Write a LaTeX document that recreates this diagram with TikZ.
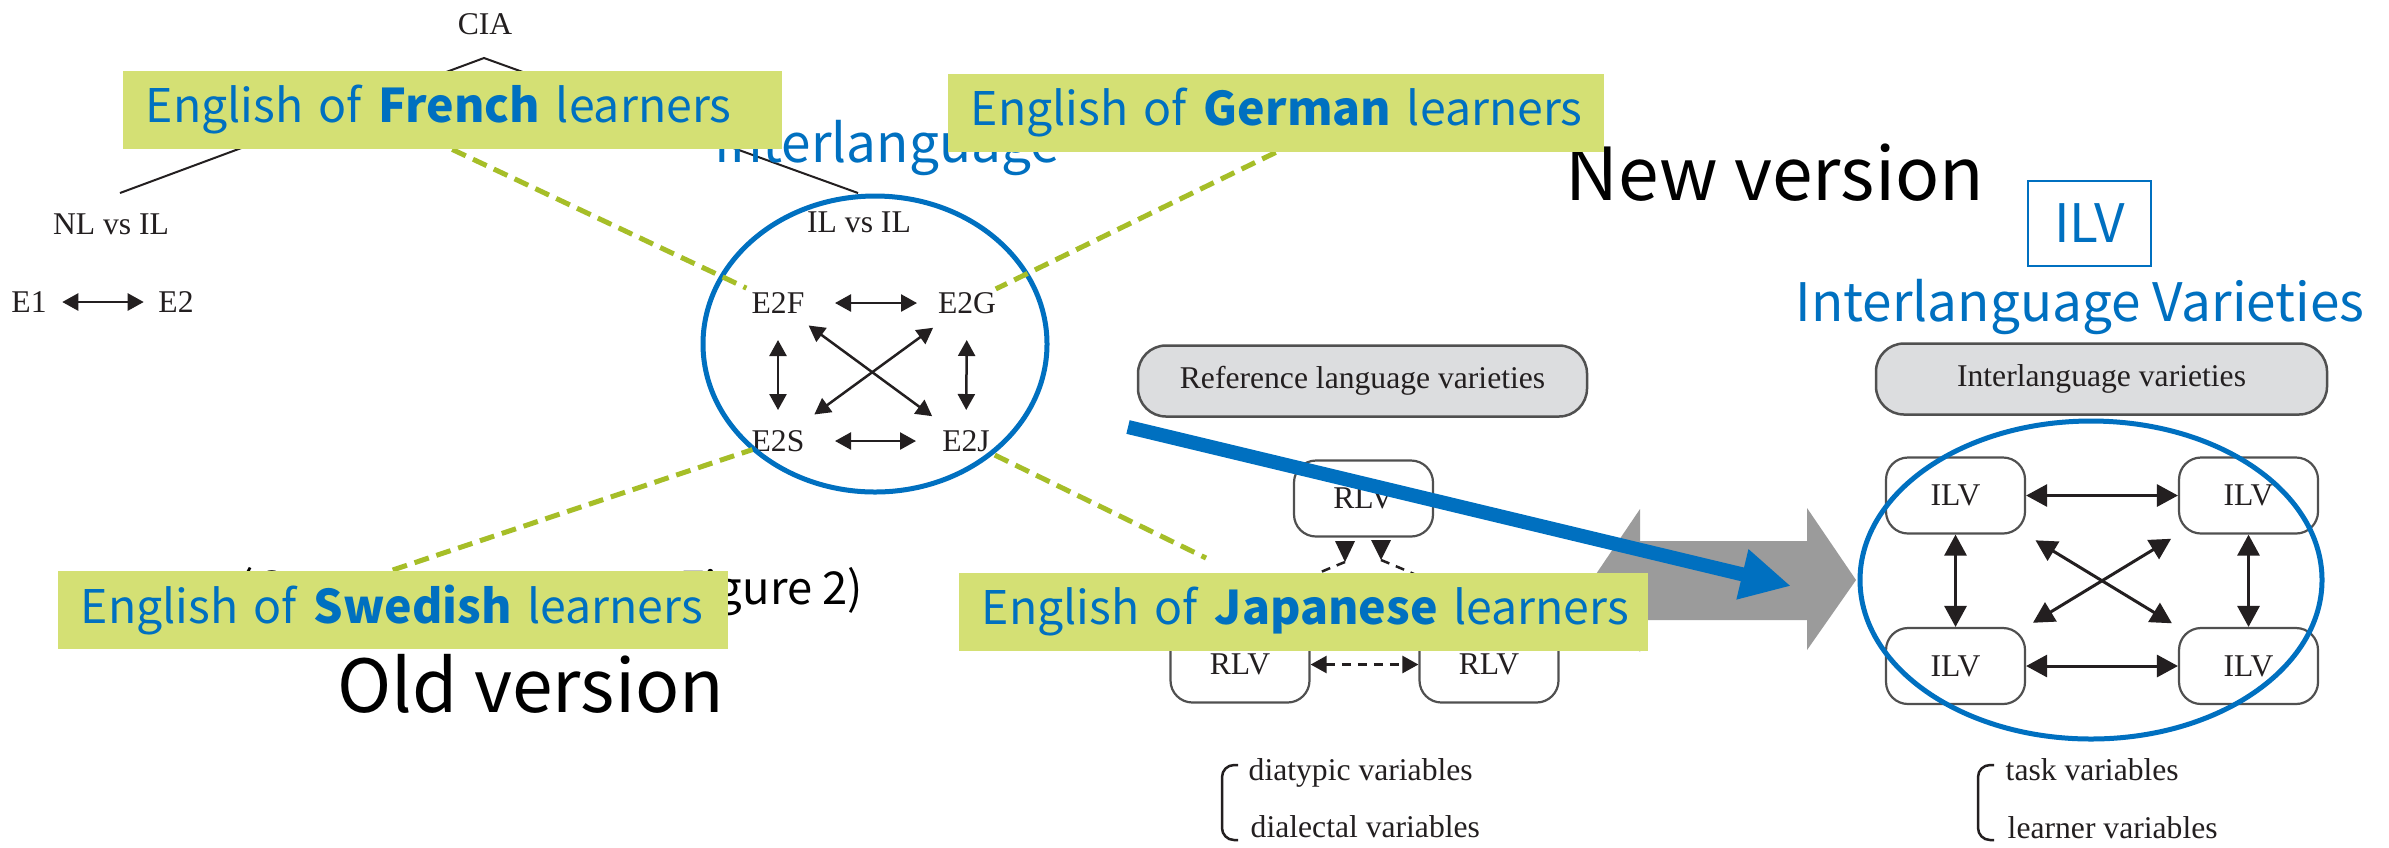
\documentclass[tikz,border=0pt]{standalone}
\usepackage{fontspec}
\usetikzlibrary{arrows.meta}
\newfontfamily\slidefont{Noto Sans CJK JP}
\newfontfamily\bookfont{Liberation Serif}
\definecolor{ilblue}{RGB}{0,112,192}
\definecolor{tagfill}{RGB}{212,224,116}
\definecolor{tagdash}{RGB}{166,190,40}
\definecolor{hdrfill}{RGB}{220,221,223}
\definecolor{boxline}{RGB}{80,80,80}
\definecolor{bigarrow}{RGB}{155,155,155}
\definecolor{ink}{RGB}{35,31,32}
\pgfdeclarelayer{figs}
\pgfdeclarelayer{links}
\pgfsetlayers{figs,links,main}
\begin{document}
\begin{tikzpicture}[x=0.1mm,y=-0.1mm,
  book/.style={font=\bookfont\fontsize{9pt}{11pt}\selectfont, text=ink, inner sep=0pt},
  bihead/.style={{Triangle[length=1.6mm,width=1.7mm]}-{Triangle[length=1.6mm,width=1.7mm]}, line width=0.25mm, draw=ink},
  bigbihead/.style={{Triangle[length=2.1mm,width=2.2mm]}-{Triangle[length=2.1mm,width=2.2mm]}, line width=0.3mm, draw=ink},
  varbox/.style={book, draw=boxline, line width=0.22mm, rounded corners=2.2mm, fill=white, minimum width=13.9mm, minimum height=7.6mm},
  hdrbox/.style={book, draw=boxline, line width=0.25mm, fill=hdrfill, rounded corners=2.8mm, minimum height=7.1mm},
  tag/.style={fill=tagfill, text=ilblue, font=\slidefont\fontsize{13.2pt}{16pt}\selectfont, anchor=north west, inner xsep=2.3mm, inner ysep=0pt, minimum height=7.8mm, align=left},
  tagline/.style={draw=tagdash, line width=0.5mm, dash pattern=on 1.5mm off 0.8mm},
  circ/.style={draw=ilblue, line width=0.5mm},
  slide/.style={font=\slidefont\fontsize{#1}{#1}\selectfont, inner sep=0pt},
]
\begin{pgfonlayer}{figs}
\fill[white] (0,0) rectangle (2389,847);
\useasboundingbox (0,0) rectangle (2389,847);

% CIA tree (old version)
\node[book] (cia) at (485,24) {CIA};
\node[book] (nlil) at (111,224) {NL vs IL};
\node[book] (ilil) at (859,222) {IL vs IL};
\coordinate (apex) at (484,58);
\coordinate (nlend) at (120,193);
\coordinate (ilend) at (858,193);
\draw[ink, line width=0.2mm] (nlend) -- (apex) -- (ilend);
\node[book] (e1) at (29,302) {E1};
\node[book] (e2) at (176,302) {E2};
\draw[bihead, shorten <=1.5mm, shorten >=1.4mm] (e1) -- (e2);

\node[book] (e2f) at (778,303) {E2F};
\node[book] (e2g) at (967,303) {E2G};
\node[book] (e2s) at (778,441) {E2S};
\node[book] (e2j) at (966,441) {E2J};
\draw[bihead, shorten <=5.7mm, shorten >=5mm] (e2f.center) -- (e2g.center);
\draw[bihead, shorten <=5.7mm, shorten >=5mm] (e2s.center) -- (e2j.center);
\draw[bihead, shorten <=3.7mm, shorten >=3.1mm] (e2f.center) -- (e2s.center);
\draw[bihead, shorten <=3.7mm, shorten >=3.1mm] (e2g.center) -- (e2j.center);
\draw[bihead, shorten <=3.8mm, shorten >=4.2mm] (e2f.center) -- (e2j.center);
\draw[bihead, shorten <=4.2mm, shorten >=4.5mm] (e2g.center) -- (e2s.center);

\node[slide=15.1pt, text=ilblue, anchor=base west] (iltitle) at (714,162) {Interlanguage};
\node[slide=12.9pt, anchor=base west] (src) at (238,604) {(Granger 1996, p.\ 44, Figure 2)};
\node[slide=20.8pt, anchor=base west] (oldv) at (337,712) {Old version};
\draw[circ] (875,344) ellipse [x radius=17.2mm, y radius=14.8mm];

% reference language varieties
\node[hdrbox, minimum width=44.9mm] (rlvhdr) at (1362.5,381) {Reference language varieties};
\node[varbox] (rtop) at (1363.5,498.5) {RLV};
\node[varbox] (rbl) at (1240,664.5) {RLV};
\node[varbox] (rbr) at (1489,664.5) {RLV};
\draw[bihead, dash pattern=on 0.9mm off 0.7mm] (rbl) -- (rbr);
\coordinate (lhead) at (1345,562);
\coordinate (rhead) at (1381,560);
\draw[ink, line width=0.25mm, dash pattern=on 0.9mm off 0.7mm] (lhead) .. controls (1305,578) and (1255,600) .. (rbl.north);
\draw[ink, line width=0.25mm, dash pattern=on 0.9mm off 0.7mm] (rhead) .. controls (1425,578) and (1475,600) .. (rbr.north);
\fill[ink] (1335,541) -- (1355,541) -- (lhead) -- cycle;
\fill[ink] (1371,540) -- (1391,540) -- (rhead) -- cycle;
\node[book, anchor=base west] (v1) at (1248,780) {diatypic variables};
\node[book, anchor=base west] (v2) at (1250,837) {dialectal variables};
\draw[ink, line width=0.25mm, rounded corners=1.2mm] (1238,765) -- (1222,765) -- (1222,840) -- (1238,840);

% grey double block arrow
\fill[bigarrow] (1592,580) -- (1640,509) -- (1640,541) -- (1807,541) -- (1807,508)
  -- (1856,580) -- (1807,650) -- (1807,620) -- (1640,620) -- (1640,652) -- cycle;

% interlanguage varieties
\node[hdrbox, minimum width=45.1mm] (ilhdr) at (2101.5,379) {Interlanguage varieties};
\node[varbox] (itl) at (1955.5,495.5) {ILV};
\node[varbox] (itr) at (2248.5,495.5) {ILV};
\node[varbox] (ibl) at (1955.5,666) {ILV};
\node[varbox] (ibr) at (2248.5,666) {ILV};
\draw[bigbihead] (itl) -- (itr);
\draw[bigbihead] (ibl) -- (ibr);
\draw[bigbihead] (itl) -- (ibl);
\draw[bigbihead] (itr) -- (ibr);
\draw[bigbihead, shorten <=1.1mm, shorten >=0.7mm] (itl.south east) -- (ibr.north west);
\draw[bigbihead, shorten <=0.8mm, shorten >=0.8mm] (itr.south west) -- (ibl.north east);
\draw[circ] (2091,580) ellipse [x radius=23.1mm, y radius=15.9mm];
\node[book, anchor=base west] (v3) at (2005,780) {task variables};
\node[book, anchor=base west] (v4) at (2007,838) {learner variables};
\draw[ink, line width=0.25mm, rounded corners=1.2mm] (1994,765) -- (1978,765) -- (1978,840) -- (1994,840);

\node[slide=20.8pt, anchor=base west] (newv) at (1565,200) {New version};
\node[slide=15.1pt, text=ilblue, draw=ilblue, line width=0.25mm, minimum width=12.3mm, minimum height=8.5mm] (ilvbox) at (2089.5,223.5) {ILV};
\node[slide=15.1pt, text=ilblue, anchor=base west] (ilvtitle) at (1795,321) {Interlanguage Varieties};
\end{pgfonlayer}

% learner labels
\node[tag, text width=61.3mm] (fr) at (122,70) {\mbox{English of \textbf{French} learners}};
\node[tag, text width=61.0mm] (de) at (947,73) {\mbox{English of \textbf{German} learners}};
\node[tag, text width=62.4mm] (sv) at (57,570) {\mbox{English of \textbf{Swedish} learners}};
\node[tag, text width=64.3mm] (jp) at (958,572) {\mbox{English of \textbf{Japanese} learners}};

\begin{pgfonlayer}{links}
\coordinate (jpend) at (1206,558);
\draw[tagline, shorten >=3.5mm] (fr.south) -- (e2f.center);
\draw[tagline, shorten >=3.2mm] (de.south) -- (e2g.center);
\draw[tagline, shorten >=2.7mm] (sv.north) -- (e2s.center);
\draw[tagline, shorten <=3.2mm] (e2j.center) -- (jpend);
\end{pgfonlayer}

% link from old to new
\coordinate (bstart) at (1128,427);
\coordinate (bend) at (1791,586);
\draw[ilblue, line width=1.4mm, -{Triangle[length=5mm,width=4.8mm]}] (bstart) -- (bend);
\end{tikzpicture}
\end{document}
